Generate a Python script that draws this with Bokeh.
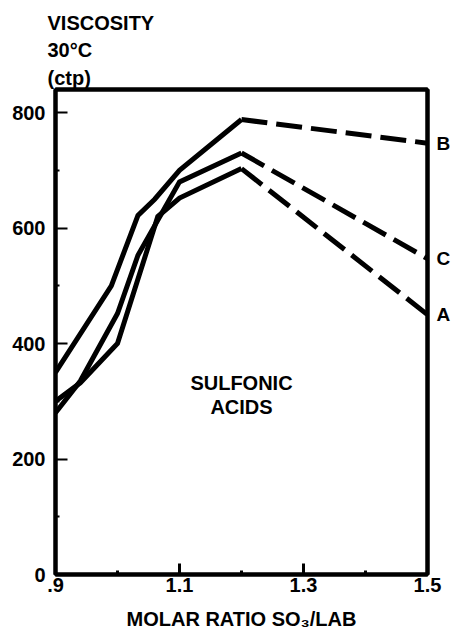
from bokeh.plotting import figure
from bokeh.models import FixedTicker, Label, Range1d, LinearAxis
from bokeh.embed import file_html
from bokeh.resources import INLINE

FONT = "Liberation Sans"

# ---- data ----
x_solid_a = [0.9, 0.94, 1.0, 1.065, 1.1, 1.2]
visc_solid_a = [300, 332, 400, 620, 652, 703]
x_solid_b = [0.9, 0.99, 1.033, 1.06, 1.1, 1.2]
visc_solid_b = [350, 500, 622, 650, 700, 788]
x_solid_c = [0.9, 0.94, 1.0, 1.033, 1.1, 1.2]
visc_solid_c = [280, 335, 452, 553, 680, 730]
x_dash = [1.2, 1.5]
visc_dash_a = [703, 450]
visc_dash_b = [788, 747]
visc_dash_c = [730, 547]
curve_names = ["A", "B", "C"]

x_major = [0.9, 1.1, 1.3, 1.5]
x_minor = [1.0, 1.2, 1.4]
x_tick_labels = [".9", "1.1", "1.3", "1.5"]
y_major = [0, 200, 400, 600, 800]
y_minor = [100, 300, 500, 700]
y_title = "VISCOSITY\n30°C\n(ctp)"
inner_text = ["SULFONIC", "ACIDS"]
x_title = "MOLAR RATIO SO₃/LAB"

p = figure(width=453, height=635,
           x_range=Range1d(0.9, 1.5), y_range=Range1d(0, 840),
           output_backend="svg", toolbar_location=None,
           min_border_left=55, min_border_right=24,
           min_border_top=89, min_border_bottom=61)

p.xgrid.visible = False
p.ygrid.visible = False
p.background_fill_color = "white"
p.border_fill_color = "white"
p.outline_line_color = "black"
p.outline_line_width = 4

# y-axis title as the plot title (multi-line, top-left)
p.title.text = y_title
p.title.align = "left"
p.title.offset = -8
p.title.text_font = FONT
p.title.text_font_style = "bold"
p.title.text_font_size = "20px"
p.title.text_line_height = 1.25
p.title.text_color = "black"
p.title.standoff = 2

for ax in (p.xaxis[0], p.yaxis[0]):
    ax.axis_line_width = 4
    ax.axis_line_color = "black"
    ax.major_tick_out = 0
    ax.minor_tick_out = 0
    ax.major_tick_line_color = "black"
    ax.minor_tick_line_color = "black"
    ax.major_label_text_font = FONT
    ax.major_label_text_font_style = "bold"
    ax.major_label_text_font_size = "20px"
    ax.major_label_text_color = "black"

p.xaxis.ticker = FixedTicker(ticks=x_major, minor_ticks=x_minor)
p.xaxis.major_label_overrides = dict(zip(x_major, x_tick_labels))
p.xaxis.major_tick_in = 11
p.xaxis.major_tick_line_width = 3
p.xaxis.minor_tick_in = 4
p.xaxis.minor_tick_line_width = 3
p.xaxis.major_label_standoff = 3
p.xaxis.axis_label = x_title
p.xaxis.axis_label_standoff = 13
p.xaxis.axis_label_text_font = FONT
p.xaxis.axis_label_text_font_style = "bold"
p.xaxis.axis_label_text_font_size = "20px"
p.xaxis.axis_label_text_color = "black"

p.yaxis.ticker = FixedTicker(ticks=y_major, minor_ticks=y_minor)
p.yaxis.major_tick_in = 12
p.yaxis.major_tick_line_width = 2
p.yaxis.minor_tick_in = 4
p.yaxis.minor_tick_line_width = 2
p.yaxis.major_label_standoff = 10

# curve end values as labels on a right-hand axis (also the right border)
end_values = [visc_dash_a[-1], visc_dash_b[-1], visc_dash_c[-1]]
right_ax = LinearAxis(ticker=FixedTicker(ticks=end_values, minor_ticks=[]),
                      major_label_overrides=dict(zip(end_values, curve_names)),
                      axis_line_width=4, axis_line_color="black",
                      major_tick_in=0, major_tick_out=0,
                      minor_tick_in=0, minor_tick_out=0,
                      major_label_standoff=9,
                      major_label_text_font=FONT,
                      major_label_text_font_style="bold",
                      major_label_text_font_size="19px",
                      major_label_text_color="black")
p.add_layout(right_ax, "right")

top_ax = LinearAxis(ticker=FixedTicker(ticks=[], minor_ticks=[]),
                    axis_line_width=4, axis_line_color="black",
                    major_tick_in=0, major_tick_out=0,
                    minor_tick_in=0, minor_tick_out=0,
                    major_label_standoff=0)
p.add_layout(top_ax, "above")

solids = {"A": (x_solid_a, visc_solid_a), "B": (x_solid_b, visc_solid_b),
          "C": (x_solid_c, visc_solid_c)}
dashes = {"A": visc_dash_a, "B": visc_dash_b, "C": visc_dash_c}

for name in curve_names:
    xs, ys = solids[name]
    p.line(xs, ys, line_color="black", line_width=5, line_join="miter")
    p.line(x_dash, dashes[name], line_color="black", line_width=5,
           line_dash="26 9")

for txt, yv in zip(inner_text, [331, 290]):
    p.add_layout(Label(x=1.2, y=yv, text=txt, text_font=FONT,
                       text_font_style="bold", text_font_size="20px",
                       text_align="center", text_baseline="alphabetic",
                       text_color="black"))

open("out.html", "w").write(file_html(p, INLINE))
